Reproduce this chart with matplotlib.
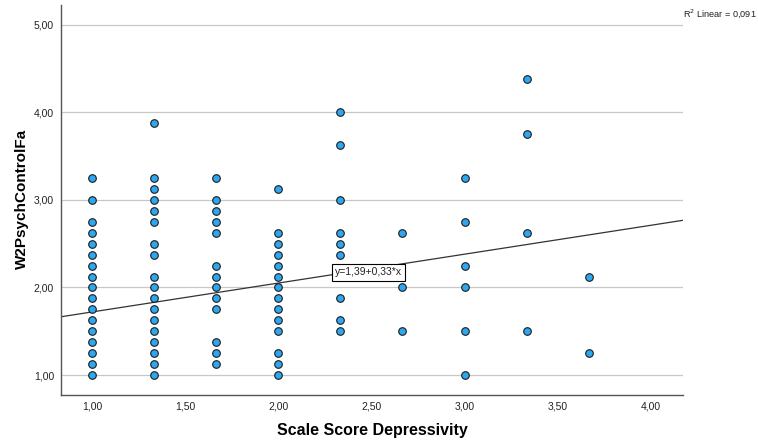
import numpy as np
import matplotlib.pyplot as plt
from matplotlib.ticker import FuncFormatter

plt.rcParams['font.family'] = ['Liberation Sans', 'DejaVu Sans']

# Scale Score Depressivity (x) vs W2PsychControlFa (y), one list per x level
x_levels = [1.0, 4 / 3, 5 / 3, 2.0, 7 / 3, 8 / 3, 3.0, 10 / 3, 11 / 3]
y_values = [
    [1.0, 1.125, 1.25, 1.375, 1.5, 1.625, 1.75, 1.875, 2.0, 2.125, 2.25, 2.375,
     2.5, 2.625, 2.75, 3.0, 3.25],
    [1.0, 1.125, 1.25, 1.375, 1.5, 1.625, 1.75, 1.875, 2.0, 2.125, 2.375, 2.5,
     2.75, 2.875, 3.0, 3.125, 3.25, 3.875],
    [1.125, 1.25, 1.375, 1.75, 1.875, 2.0, 2.125, 2.25, 2.625, 2.75, 2.875, 3.0,
     3.25],
    [1.0, 1.125, 1.25, 1.5, 1.625, 1.75, 1.875, 2.0, 2.125, 2.25, 2.375, 2.5,
     2.625, 3.125],
    [1.5, 1.625, 1.875, 2.125, 2.375, 2.5, 2.625, 3.0, 3.625, 4.0],
    [1.5, 2.0, 2.625],
    [1.0, 1.5, 2.0, 2.25, 2.75, 3.25],
    [1.5, 2.625, 3.75, 4.375],
    [1.25, 2.125],
]

# fitted line y = b0 + b1*x
b0, b1 = 1.39, 0.33
r2 = 0.091

xs = np.concatenate([[xv] * len(ys) for xv, ys in zip(x_levels, y_values)])
ys = np.concatenate(y_values)

fig = plt.figure(figsize=(7.58, 4.46), dpi=100)
ax = fig.add_axes([61 / 758, 51 / 446, 622 / 758, 390 / 446])

xlim = (0.834, 4.172)
ax.set_xlim(xlim)
ax.set_ylim(0.772, 5.225)

ax.set_yticks([1, 2, 3, 4, 5])
ax.set_xticks([1.0, 1.5, 2.0, 2.5, 3.0, 3.5, 4.0])
fmt = FuncFormatter(lambda v, p: f'{v:.2f}'.replace('.', ','))
ax.xaxis.set_major_formatter(fmt)
ax.yaxis.set_major_formatter(fmt)
ax.tick_params(length=0, labelsize=7.5, colors='#222222', pad=5)

ax.grid(axis='y', color='#c8c8c8', linewidth=0.9)
ax.set_axisbelow(True)
for s in ['top', 'right']:
    ax.spines[s].set_visible(False)
for s in ['left', 'bottom']:
    ax.spines[s].set_color('#555555')
    ax.spines[s].set_linewidth(1.0)

ax.scatter(xs, ys, s=30, color='#2ea6f0', edgecolor='#1c1c1c',
           linewidth=0.8, zorder=3)

lx = np.array(xlim)
ax.plot(lx, b0 + b1 * lx, color='#333333', linewidth=0.9, zorder=2)

ax.text(2.305, 2.115, 'y=1,39+0,33*x', fontsize=7.5, color='#222222',
        va='bottom', ha='left', zorder=4,
        bbox=dict(boxstyle='square,pad=0.3', facecolor='white',
                  edgecolor='black', linewidth=0.8))

fig.text(683 / 758, 1 - 14 / 446, 'R$^2$ Linear = ' + f'{r2:.3f}'.replace('.', ','),
         fontsize=6.6, color='#222222', va='center', ha='left')

fig.text(372 / 758, 1 - 431 / 446, 'Scale Score Depressivity', fontsize=11.5,
         fontweight='bold', ha='center', va='center')
fig.text(22 / 758, 1 - 199 / 446, 'W2PsychControlFa', fontsize=11,
         fontweight='bold', ha='center', va='center', rotation=90)

fig.savefig('out.png', dpi=100)
